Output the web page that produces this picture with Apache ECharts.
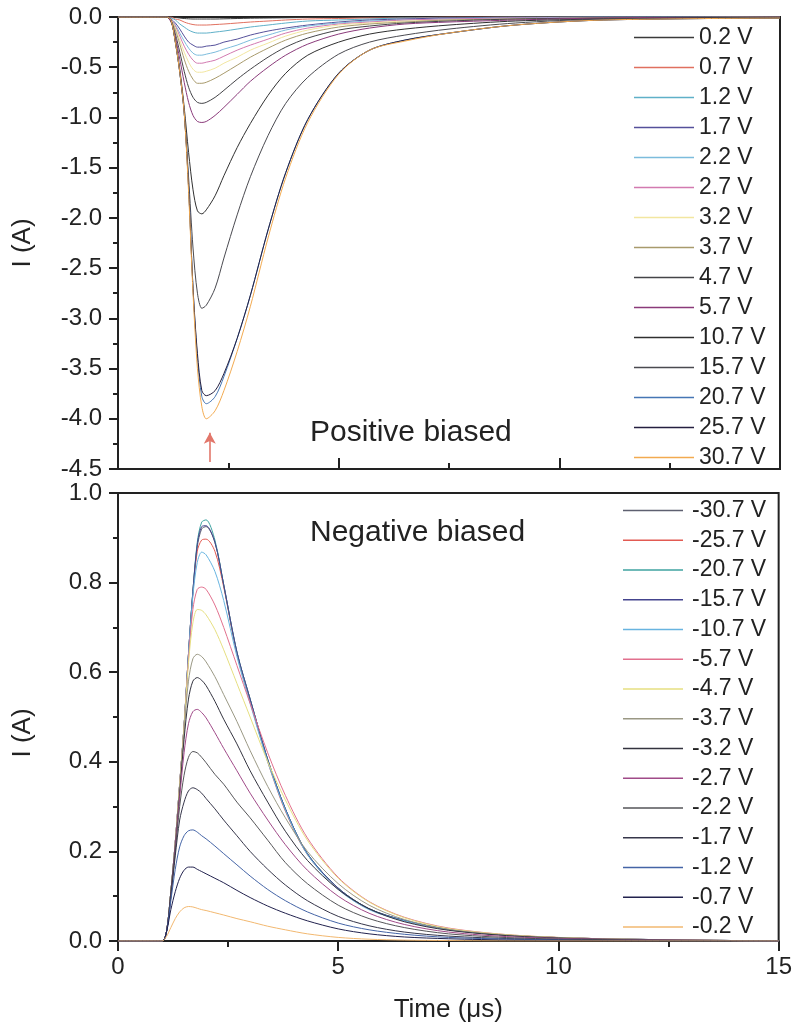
<!DOCTYPE html>
<html><head><meta charset="utf-8">
<script src="https://cdn.jsdelivr.net/npm/echarts@6/dist/echarts.min.js"></script>
<style>html,body{margin:0;padding:0;background:#fff}#c{width:795px;height:1036px}</style>
</head><body><div id="c"></div>
<script>
// time axis (µs)
const time = [0, 1.0, 1.1, 1.2, 1.3, 1.4, 1.5, 1.6, 1.7, 1.8, 1.9, 2.0, 2.2, 2.4, 2.7, 3.0, 3.4, 3.8, 4.3, 5.0, 5.7, 6.5, 7.5, 9.0, 11.0, 15.0];

// Positive biased (top panel), current in A
const posNames = ['0.2 V','0.7 V','1.2 V','1.7 V','2.2 V','2.7 V','3.2 V','3.7 V','4.7 V','5.7 V','10.7 V','15.7 V','20.7 V','25.7 V','30.7 V'];
const posColors = ['#3a3a3a','#e0705f','#5fb0c8','#55509a','#7cbcdc','#d27ab0','#f2e6a0','#a89a6c','#444448','#8a3a7a','#303030','#4a4a50','#4676b4','#241f40','#f2aa50'];
const p02  = [0,0,0,0,-0.005,-0.01,-0.015,-0.018,-0.02,-0.02,-0.02,-0.02,-0.02,-0.018,-0.015,-0.012,-0.01,-0.008,-0.005,-0.004,-0.003,-0.002,-0.001,0,0,0];
const p07  = [0,0,0,0,-0.02,-0.03,-0.05,-0.065,-0.075,-0.08,-0.08,-0.08,-0.075,-0.07,-0.06,-0.05,-0.04,-0.03,-0.02,-0.015,-0.01,-0.01,0,0,0,0];
const p12  = [0,0,0,-0.01,-0.03,-0.07,-0.1,-0.13,-0.15,-0.16,-0.16,-0.16,-0.15,-0.14,-0.12,-0.1,-0.08,-0.06,-0.04,-0.03,-0.02,-0.01,-0.01,0,0,0];
const p17  = [0,0,0,-0.02,-0.06,-0.12,-0.19,-0.25,-0.28,-0.3,-0.3,-0.29,-0.28,-0.25,-0.22,-0.18,-0.14,-0.11,-0.08,-0.05,-0.03,-0.02,-0.01,-0.01,0,0];
const p22  = [0,0,0,-0.02,-0.08,-0.16,-0.24,-0.31,-0.36,-0.38,-0.38,-0.37,-0.35,-0.32,-0.28,-0.23,-0.18,-0.13,-0.09,-0.06,-0.04,-0.03,-0.02,-0.01,0,0];
const p27  = [0,0,0,-0.02,-0.09,-0.19,-0.29,-0.37,-0.43,-0.46,-0.46,-0.45,-0.43,-0.39,-0.33,-0.28,-0.22,-0.16,-0.11,-0.07,-0.05,-0.03,-0.02,-0.01,-0.01,0];
const p32  = [0,0,0,-0.03,-0.11,-0.23,-0.35,-0.45,-0.52,-0.55,-0.55,-0.54,-0.51,-0.46,-0.4,-0.33,-0.26,-0.19,-0.13,-0.08,-0.06,-0.04,-0.03,-0.02,-0.01,0];
const p37  = [0,0,0,-0.03,-0.13,-0.27,-0.42,-0.54,-0.62,-0.66,-0.66,-0.65,-0.61,-0.56,-0.48,-0.4,-0.31,-0.23,-0.16,-0.1,-0.07,-0.05,-0.03,-0.02,-0.01,0];
const p47  = [0,0,0,-0.04,-0.17,-0.35,-0.54,-0.7,-0.8,-0.85,-0.86,-0.85,-0.8,-0.73,-0.62,-0.52,-0.4,-0.3,-0.21,-0.13,-0.09,-0.06,-0.04,-0.02,-0.01,0];
const p57  = [0,0,0,-0.05,-0.2,-0.42,-0.65,-0.85,-0.98,-1.04,-1.05,-1.04,-0.98,-0.9,-0.77,-0.64,-0.5,-0.38,-0.27,-0.17,-0.11,-0.07,-0.05,-0.03,-0.01,0];
const p107 = [0,0,0,-0.03,-0.24,-0.52,-0.9,-1.35,-1.72,-1.93,-1.96,-1.92,-1.78,-1.58,-1.3,-1.06,-0.78,-0.56,-0.38,-0.25,-0.17,-0.12,-0.08,-0.04,-0.02,0];
const p157 = [0,0,0,-0.03,-0.25,-0.55,-0.95,-1.6,-2.3,-2.75,-2.9,-2.87,-2.7,-2.4,-1.97,-1.59,-1.18,-0.86,-0.6,-0.37,-0.25,-0.18,-0.12,-0.06,-0.02,-0.01];
const p207 = [0,0,0,-0.03,-0.25,-0.55,-0.95,-1.7,-2.7,-3.4,-3.78,-3.85,-3.78,-3.58,-3.2,-2.77,-2.12,-1.55,-1.02,-0.56,-0.33,-0.23,-0.16,-0.08,-0.03,-0.01];
const p257 = [0,0,0,-0.03,-0.25,-0.55,-0.95,-1.7,-2.7,-3.35,-3.72,-3.77,-3.72,-3.55,-3.2,-2.77,-2.12,-1.55,-1.02,-0.56,-0.33,-0.23,-0.16,-0.08,-0.03,-0.01];
const p307 = [0,0,0,-0.03,-0.25,-0.55,-0.95,-1.75,-2.75,-3.5,-3.88,-4.0,-3.92,-3.72,-3.33,-2.88,-2.2,-1.6,-1.05,-0.57,-0.33,-0.24,-0.16,-0.08,-0.03,-0.01];
const posValues = [p02,p07,p12,p17,p22,p27,p32,p37,p47,p57,p107,p157,p207,p257,p307];

// Negative biased (bottom panel), current in A
const negNames = ['-30.7 V','-25.7 V','-20.7 V','-15.7 V','-10.7 V','-5.7 V','-4.7 V','-3.7 V','-3.2 V','-2.7 V','-2.2 V','-1.7 V','-1.2 V','-0.7 V','-0.2 V'];
const negColors = ['#5e6070','#e25a52','#3fa3a0','#44448e','#68b4e0','#e2708e','#e6df80','#9a9884','#33333f','#a04a88','#555558','#36364a','#4464a6','#22224e','#f2b870'];
const n307 = [0,0,0.02,0.11,0.22,0.35,0.48,0.64,0.78,0.88,0.92,0.925,0.89,0.795,0.645,0.54,0.405,0.295,0.195,0.118,0.072,0.046,0.026,0.012,0.005,0];
const n257 = [0,0,0.02,0.11,0.22,0.35,0.48,0.64,0.775,0.87,0.895,0.897,0.87,0.79,0.64,0.535,0.4,0.29,0.193,0.116,0.071,0.045,0.025,0.012,0.005,0];
const n207 = [0,0,0.02,0.11,0.22,0.35,0.48,0.64,0.78,0.89,0.935,0.94,0.895,0.795,0.645,0.54,0.405,0.295,0.195,0.118,0.072,0.046,0.026,0.012,0.005,0];
const n157 = [0,0,0.02,0.11,0.22,0.35,0.48,0.64,0.78,0.885,0.925,0.927,0.89,0.795,0.645,0.54,0.405,0.295,0.195,0.118,0.072,0.046,0.026,0.012,0.005,0];
const n107 = [0,0,0.02,0.11,0.22,0.35,0.48,0.64,0.77,0.845,0.868,0.862,0.825,0.76,0.635,0.53,0.4,0.292,0.193,0.115,0.07,0.045,0.025,0.012,0.005,0];
const n57  = [0,0,0.02,0.11,0.22,0.35,0.48,0.63,0.74,0.785,0.79,0.785,0.75,0.7,0.615,0.53,0.42,0.325,0.23,0.142,0.088,0.053,0.029,0.013,0.005,0];
const n47  = [0,0,0.02,0.11,0.22,0.35,0.48,0.62,0.71,0.74,0.738,0.728,0.695,0.65,0.575,0.5,0.4,0.315,0.225,0.14,0.087,0.052,0.028,0.013,0.005,0];
const n37  = [0,0,0.02,0.11,0.22,0.34,0.47,0.58,0.63,0.64,0.635,0.623,0.59,0.55,0.49,0.425,0.345,0.275,0.2,0.128,0.08,0.048,0.026,0.012,0.005,0];
const n32  = [0,0,0.02,0.11,0.21,0.33,0.45,0.54,0.58,0.588,0.582,0.57,0.535,0.495,0.44,0.38,0.31,0.245,0.18,0.115,0.072,0.043,0.024,0.011,0.004,0];
const n27  = [0,0,0.02,0.1,0.21,0.32,0.42,0.485,0.512,0.517,0.51,0.498,0.465,0.43,0.38,0.33,0.27,0.215,0.158,0.1,0.062,0.037,0.02,0.009,0.004,0];
const n22  = [0,0,0.02,0.1,0.2,0.3,0.37,0.41,0.423,0.42,0.41,0.398,0.372,0.35,0.31,0.275,0.225,0.175,0.128,0.08,0.05,0.03,0.016,0.007,0.003,0];
const n17  = [0,0,0.02,0.1,0.19,0.27,0.31,0.335,0.342,0.338,0.33,0.318,0.295,0.27,0.235,0.2,0.16,0.125,0.09,0.055,0.034,0.02,0.011,0.005,0.002,0];
const n12  = [0,0,0.02,0.09,0.16,0.21,0.235,0.246,0.248,0.243,0.235,0.228,0.212,0.195,0.17,0.145,0.115,0.09,0.065,0.04,0.025,0.015,0.008,0.004,0.001,0];
const n07  = [0,0,0.02,0.07,0.11,0.14,0.158,0.165,0.165,0.16,0.155,0.15,0.14,0.13,0.113,0.097,0.078,0.062,0.045,0.027,0.016,0.009,0.005,0.002,0.001,0];
const n02  = [0,0,0.01,0.03,0.05,0.065,0.074,0.077,0.076,0.073,0.07,0.068,0.063,0.058,0.05,0.043,0.033,0.025,0.016,0.008,0.004,0.002,0.001,0,0,0];
const negValues = [n307,n257,n207,n157,n107,n57,n47,n37,n32,n27,n22,n17,n12,n07,n02];

// axis ticks
const xTicks = [0, 5, 10, 15];
const arrowTime = 2.08;

const FONT = 'Liberation Sans, Arial, sans-serif';
const AX = '#222';

function mkSeries(names, values, colors, gi) {
  return names.map((nm, i) => ({
    name: nm, type: 'line', xAxisIndex: gi, yAxisIndex: gi,
    data: time.map((t, k) => [t, values[i][k]]),
    showSymbol: false, symbol: 'none', smooth: 0.3,
    lineStyle: {width: 1, color: colors[i]}, itemStyle: {color: colors[i]},
    emphasis: {disabled: true}, silent: true, z: 2
  }));
}

const posSeries = mkSeries(posNames, posValues, posColors, 0);
const negSeries = mkSeries(negNames, negValues, negColors, 1);
posSeries[posSeries.length - 1].markLine = {
  silent: true, symbol: ['none', 'arrow'], symbolSize: [9, 11],
  label: {show: false},
  lineStyle: {color: '#e2766a', width: 1.6, type: 'solid'},
  data: [[{coord: [arrowTime, -4.43]}, {coord: [arrowTime, -4.14]}]]
};

function xAxisCfg(gi, showLabels) {
  return {
    type: 'value', gridIndex: gi, min: xTicks[0], max: xTicks[xTicks.length - 1], interval: 5,
    axisLine: {show: true, onZero: false, lineStyle: {color: AX, width: 2}},
    axisTick: {show: true, inside: !showLabels, length: showLabels ? 10 : 11, lineStyle: {color: AX, width: 2}},
    minorTick: {show: true, splitNumber: 2, length: 6, lineStyle: {color: AX, width: 2}},
    axisLabel: {show: showLabels, fontSize: 24, color: '#222', fontFamily: FONT, margin: 14},
    splitLine: {show: false},
    name: showLabels ? 'Time (\u03bcs)' : '', nameLocation: 'middle', nameGap: 56,
    nameTextStyle: {fontSize: 26, color: '#222', fontFamily: FONT}
  };
}
function yAxisCfg(gi, min, max, interval, namePad) {
  return {
    type: 'value', gridIndex: gi, min: min, max: max, interval: interval,
    axisLine: {show: true, onZero: false, lineStyle: {color: AX, width: 2}},
    axisTick: {show: true, inside: false, length: 9, lineStyle: {color: AX, width: 2}},
    minorTick: {show: true, splitNumber: 2, length: 5, lineStyle: {color: AX, width: 2}},
    axisLabel: {fontSize: 24, color: '#222', fontFamily: FONT, margin: 16, formatter: v => v.toFixed(1)},
    splitLine: {show: false},
    name: 'I (A)', nameLocation: 'middle', nameGap: 82,
    nameTextStyle: {fontSize: 26, color: '#222', fontFamily: FONT, padding: namePad}
  };
}

function legendCfg(names, left, top, spacing, textPad) {
  return {
    data: names, orient: 'vertical', left: left, top: top, padding: 0,
    itemWidth: 60, itemHeight: 14, itemGap: spacing - 23,
    icon: 'path://M0,0 L60,0 L60,1.6 L0,1.6 Z',
    textStyle: {fontSize: 23, color: '#222', fontFamily: FONT, lineHeight: 23, padding: [0, 0, 0, textPad]},
    selectedMode: false, inactiveColor: '#ccc'
  };
}

const chart = echarts.init(document.getElementById('c'), null, {renderer: 'canvas'});
chart.setOption({
  animation: false,
  backgroundColor: '#fff',
  grid: [
    {left: 118, top: 17, width: 662, height: 452, show: true, borderColor: AX, borderWidth: 2, backgroundColor: 'transparent'},
    {left: 118, top: 493, width: 662, height: 448, show: true, borderColor: AX, borderWidth: 2, backgroundColor: 'transparent'}
  ],
  xAxis: [xAxisCfg(0, false), xAxisCfg(1, true)],
  yAxis: [yAxisCfg(0, -4.5, 0, 0.5, [0, 0, 0, 0]), yAxisCfg(1, 0, 1, 0.2, [0, 32, 0, 0])],
  legend: [legendCfg(posNames, 634, 26, 30, 0), legendCfg(negNames, 623, 499, 29.75, 4)],
  graphic: [
    {type: 'text', left: 310, top: 418, style: {text: 'Positive biased', fontSize: 30, fill: '#222', fontFamily: FONT}},
    {type: 'text', left: 310, top: 518, style: {text: 'Negative biased', fontSize: 30, fill: '#222', fontFamily: FONT}}
  ],
  series: posSeries.concat(negSeries)
});
</script>
</body></html>
